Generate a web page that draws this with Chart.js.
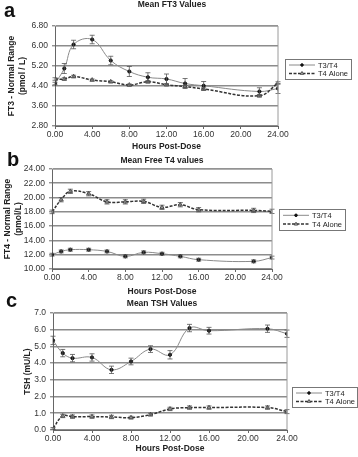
<!DOCTYPE html>
<html>
<head>
<meta charset="utf-8">
<script src="https://cdn.jsdelivr.net/npm/chart.js@4.4.1/dist/chart.umd.min.js"></script>
<style>
  body { margin: 0; background: #fff; }
  #wrap { position: relative; width: 358px; height: 457px; overflow: hidden; }
  canvas { position: absolute; left: 0; }
</style>
</head>
<body>
<div id="wrap">
  <canvas id="chartA" width="358" height="152" style="top:0px"></canvas>
  <canvas id="chartB" width="358" height="148" style="top:152px"></canvas>
  <canvas id="chartC" width="358" height="165" style="top:292px"></canvas>
</div>
<script>
// sampling times (hours post-dose)
var hours = [0, 1, 2, 4, 6, 8, 10, 12, 14, 16, 22, 24];
var xTicks = [0, 4, 8, 12, 16, 20, 24];

// panel a - FT3 (pmol/L)
var ft3Combo = [4.50, 5.10, 6.06, 6.26, 5.42, 4.98, 4.75, 4.68, 4.50, 4.41, 4.18, 4.30];
var ft3ComboErr = [0.05, 0.20, 0.17, 0.17, 0.17, 0.20, 0.18, 0.20, 0.20, 0.17, 0.15, 0.20];
var ft3Alone = [4.68, 4.68, 4.78, 4.64, 4.57, 4.44, 4.57, 4.45, 4.38, 4.28, 4.01, 4.52];
var ft3AloneErr = [0.05, 0.05, 0.05, 0.04, 0.04, 0.04, 0.05, 0.04, 0.04, 0.05, 0.05, 0.05];
var ft3Ticks = [2.8, 3.6, 4.4, 5.2, 6.0, 6.8];

// panel b - free T4 (pmol/L)
var ft4Combo = [12.0, 12.46, 12.7, 12.7, 12.46, 11.77, 12.33, 12.14, 11.77, 11.3, 11.07, 11.6];
var ft4ComboErr = [0.2, 0.2, 0.2, 0.2, 0.2, 0.2, 0.2, 0.2, 0.2, 0.2, 0.2, 0.2];
var ft4Alone = [18.0, 19.7, 20.87, 20.54, 19.4, 19.4, 19.47, 18.63, 19.0, 18.3, 18.2, 18.07];
var ft4AloneErr = [0.25, 0.3, 0.3, 0.3, 0.3, 0.3, 0.3, 0.3, 0.3, 0.3, 0.3, 0.3];
var ft4Ticks = [10, 12, 14, 16, 18, 20, 22, 24];

// panel c - TSH (mU/L)
var tshCombo = [5.36, 4.60, 4.30, 4.34, 3.60, 4.10, 4.84, 4.50, 6.10, 5.94, 6.06, 5.76];
var tshComboErr = [0.25, 0.22, 0.22, 0.22, 0.22, 0.2, 0.2, 0.25, 0.22, 0.2, 0.22, 0.22];
var tshAlone = [0.10, 0.84, 0.80, 0.80, 0.78, 0.74, 0.92, 1.26, 1.34, 1.34, 1.34, 1.10];
var tshAloneErr = [0.05, 0.1, 0.1, 0.1, 0.1, 0.08, 0.08, 0.1, 0.1, 0.1, 0.1, 0.12];
var tshTicks = [0, 1, 2, 3, 4, 5, 6, 7];

var seriesNames = ['T3/T4', 'T4 Alone'];

var FONT = 'Liberation Sans, Arial, sans-serif';

function points(values) {
    return hours.map(function (h, i) { return { x: h, y: values[i] }; });
}

var comboStyle = {
    borderColor: '#8a8a8a', borderWidth: 1,
    pointStyle: 'circle', pointRadius: 1.6,
    pointBackgroundColor: '#111', pointBorderColor: '#111', pointBorderWidth: 1
};
var aloneStyle = {
    borderColor: '#333', borderWidth: 1.5, borderDash: [3, 1.5],
    pointStyle: 'triangle', pointRadius: 2.4,
    pointBackgroundColor: '#c8c8c8', pointBorderColor: '#333', pointBorderWidth: 0.8
};

// error bars, frame, title, panel letter and boxed legend
var panelDeco = {
    id: 'panelDeco',
    afterDatasetsDraw: function (chart) {
        var ctx = chart.ctx;
        var xs = chart.scales.x, ys = chart.scales.y;
        ctx.save();
        chart.data.datasets.forEach(function (ds) {
            if (!ds.errors) return;
            ctx.strokeStyle = ds.errColor;
            ctx.lineWidth = 0.8;
            ds.data.forEach(function (p, i) {
                var e = ds.errors[i];
                var px = xs.getPixelForValue(p.x);
                var top = ys.getPixelForValue(p.y + e);
                var bot = ys.getPixelForValue(p.y - e);
                ctx.beginPath();
                ctx.moveTo(px, top); ctx.lineTo(px, bot);
                ctx.moveTo(px - 2.5, top); ctx.lineTo(px + 2.5, top);
                ctx.moveTo(px - 2.5, bot); ctx.lineTo(px + 2.5, bot);
                ctx.stroke();
            });
        });
        ctx.restore();
    },
    afterDraw: function (chart, args, opts) {
        var ctx = chart.ctx;
        var a = chart.chartArea;
        ctx.save();
        // plot frame
        ctx.strokeStyle = '#9a9a9a';
        ctx.lineWidth = 1;
        ctx.beginPath();
        ctx.moveTo(a.left, a.top); ctx.lineTo(a.right, a.top); ctx.lineTo(a.right, a.bottom);
        ctx.stroke();
        // title and letter
        ctx.fillStyle = '#222';
        ctx.textAlign = 'center';
        ctx.textBaseline = 'middle';
        ctx.font = 'bold 8.5px ' + FONT;
        ctx.fillText(opts.title, opts.titleX, opts.titleY);
        ctx.textAlign = 'left';
        ctx.font = 'bold 20px ' + FONT;
        ctx.fillStyle = '#111';
        ctx.fillText(opts.letter, opts.letterX, opts.letterY);
        // legend
        var L = opts.legend;
        ctx.fillStyle = '#fff';
        ctx.fillRect(L.x, L.y, L.w, L.h);
        ctx.strokeStyle = '#777';
        ctx.lineWidth = 1;
        ctx.strokeRect(L.x + 0.5, L.y + 0.5, L.w, L.h);
        chart.data.datasets.forEach(function (ds, i) {
            var ry = L.y + L.h * (i === 0 ? 0.3 : 0.72);
            ctx.strokeStyle = ds.borderColor;
            ctx.lineWidth = ds.borderWidth;
            ctx.setLineDash(ds.borderDash || []);
            ctx.beginPath();
            ctx.moveTo(L.x + 4, ry); ctx.lineTo(L.x + 30, ry);
            ctx.stroke();
            ctx.setLineDash([]);
            ctx.fillStyle = ds.pointBackgroundColor;
            ctx.strokeStyle = ds.pointBorderColor;
            ctx.lineWidth = ds.pointBorderWidth;
            Chart.helpers.drawPoint(ctx, {
                pointStyle: ds.pointStyle, radius: ds.pointRadius * 0.8, borderWidth: ds.pointBorderWidth
            }, L.x + 17, ry);
            ctx.fillStyle = '#222';
            ctx.font = '7.5px ' + FONT;
            ctx.textAlign = 'left';
            ctx.fillText(ds.label, L.x + 33, ry + 0.5);
        });
        ctx.restore();
    }
};

function makePanel(id, cfg) {
    var ctx = document.getElementById(id).getContext('2d');
    return new Chart(ctx, {
        type: 'line',
        data: {
            datasets: [
                Object.assign({
                    label: seriesNames[0], data: points(cfg.combo), errors: cfg.comboErr,
                    errColor: '#555', tension: 0.4, order: 1
                }, comboStyle),
                Object.assign({
                    label: seriesNames[1], data: points(cfg.alone), errors: cfg.aloneErr,
                    errColor: '#555', tension: 0.4, order: 0
                }, aloneStyle)
            ]
        },
        options: {
            responsive: false,
            animation: false,
            layout: { padding: { top: cfg.top, right: cfg.right, bottom: 0, left: 0 } },
            plugins: {
                legend: { display: false },
                tooltip: { enabled: false },
                panelDeco: cfg.deco
            },
            scales: {
                x: {
                    type: 'linear', min: 0, max: 24,
                    afterBuildTicks: function (s) { s.ticks = xTicks.map(function (v) { return { value: v }; }); },
                    afterFit: function (s) { s.height = cfg.xHeight; },
                    ticks: {
                        callback: function (v) { return v.toFixed(2); },
                        font: { size: 8.5, family: FONT }, color: '#333',
                        padding: 1, maxRotation: 0, autoSkip: false
                    },
                    grid: { drawOnChartArea: false, tickLength: 3, color: '#666' },
                    border: { color: '#666', width: 1 },
                    title: {
                        display: true, text: 'Hours Post-Dose', color: '#222',
                        font: { size: 8.5, weight: 'bold', family: FONT },
                        padding: { top: 0, bottom: cfg.xTitlePad }
                    }
                },
                y: {
                    min: cfg.ticks[0], max: cfg.ticks[cfg.ticks.length - 1],
                    afterBuildTicks: function (s) { s.ticks = cfg.ticks.map(function (v) { return { value: v }; }); },
                    afterFit: function (s) { s.width = cfg.yWidth; },
                    ticks: {
                        callback: function (v) { return v.toFixed(cfg.decimals); },
                        font: { size: 8.5, family: FONT }, color: '#333', padding: 4
                    },
                    grid: { color: '#8c8c8c', lineWidth: 1.6, tickLength: 3, tickColor: '#666', tickWidth: 1 },
                    border: { color: '#666', width: 1 },
                    title: {
                        display: true, text: cfg.yTitle, color: '#222',
                        font: { size: 8.5, weight: 'bold', family: FONT },
                        padding: { top: cfg.yTitlePad, bottom: 0 }
                    }
                }
            }
        },
        plugins: [panelDeco]
    });
}

makePanel('chartA', {
    combo: ft3Combo, comboErr: ft3ComboErr, alone: ft3Alone, aloneErr: ft3AloneErr,
    ticks: ft3Ticks, decimals: 2, yTitle: ['FT3 - Normal Range', '(pmol / L)'], yTitlePad: 7,
    top: 26, right: 80, yWidth: 55, xHeight: 26, xTitlePad: 0,
    deco: { title: 'Mean FT3 Values', titleX: 172, titleY: 5, letter: 'a', letterX: 4, letterY: 11,
            legend: { x: 285, y: 59, w: 66, h: 20 } }
});

makePanel('chartB', {
    combo: ft4Combo, comboErr: ft4ComboErr, alone: ft4Alone, aloneErr: ft4AloneErr,
    ticks: ft4Ticks, decimals: 2, yTitle: ['FT4 - Normal Range', '(pmol/L)'], yTitlePad: 3,
    top: 17, right: 86, yWidth: 52, xHeight: 31, xTitlePad: 3,
    deco: { title: 'Mean Free T4 values', titleX: 162, titleY: 9, letter: 'b', letterX: 7, letterY: 8,
            legend: { x: 279, y: 57, w: 66, h: 21 } }
});

makePanel('chartC', {
    combo: tshCombo, comboErr: tshComboErr, alone: tshAlone, aloneErr: tshAloneErr,
    ticks: tshTicks, decimals: 1, yTitle: 'TSH (mU/L)', yTitlePad: 23,
    top: 21, right: 71, yWidth: 53, xHeight: 27, xTitlePad: 3,
    deco: { title: 'Mean TSH Values', titleX: 162, titleY: 12, letter: 'c', letterX: 6, letterY: 9,
            legend: { x: 292, y: 95, w: 65, h: 20 } }
});
</script>
</body>
</html>
